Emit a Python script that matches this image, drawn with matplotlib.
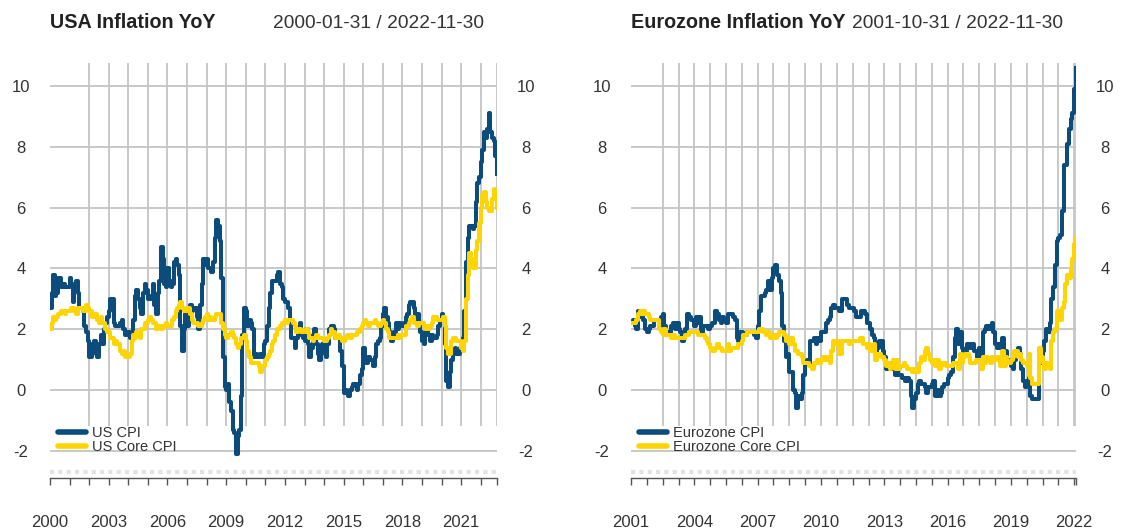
import matplotlib
matplotlib.use("Agg")
import matplotlib.pyplot as plt
from matplotlib.lines import Line2D
import pandas as pd

plt.rcParams['font.family'] = ['Liberation Sans', 'DejaVu Sans']

BLUE = '#0B4C7D'
GOLD = '#FFD400'
GRID = '#C4C4C4'
TXT = '#333333'

# USA, month-end values (YoY %)
us_dates = pd.date_range('2000-01-31', '2022-11-30', freq=pd.offsets.MonthEnd(1))
us_cpi = [
    2.7, 3.2, 3.8, 3.1, 3.2, 3.7, 3.7, 3.4, 3.5, 3.4, 3.4, 3.4,
    3.7, 3.5, 2.9, 3.3, 3.6, 3.2, 2.7, 2.7, 2.6, 2.1, 1.9, 1.6,
    1.1, 1.1, 1.5, 1.6, 1.2, 1.1, 1.5, 1.8, 1.5, 2.0, 2.2, 2.4,
    2.6, 3.0, 3.0, 2.2, 2.1, 2.1, 2.1, 2.2, 2.3, 2.0, 1.8, 1.9,
    1.9, 1.7, 1.7, 2.3, 3.1, 3.3, 3.0, 2.7, 2.5, 3.2, 3.5, 3.3,
    3.0, 3.0, 3.1, 3.5, 2.8, 2.5, 3.2, 3.6, 4.7, 4.3, 3.5, 3.4,
    4.0, 3.6, 3.4, 3.5, 4.2, 4.3, 4.1, 3.8, 2.1, 1.3, 2.0, 2.5,
    2.1, 2.4, 2.8, 2.6, 2.7, 2.7, 2.4, 2.0, 2.8, 3.5, 4.3, 4.1,
    4.3, 4.0, 4.0, 3.9, 4.2, 5.0, 5.6, 5.4, 4.9, 3.7, 1.1, 0.1,
    0.0, 0.2, -0.4, -0.7, -1.3, -1.4, -2.1, -1.5, -1.3, -0.2, 1.8, 2.7,
    2.6, 2.1, 2.3, 2.2, 2.0, 1.1, 1.2, 1.1, 1.1, 1.2, 1.1, 1.5,
    1.6, 2.1, 2.7, 3.2, 3.6, 3.6, 3.6, 3.8, 3.9, 3.5, 3.4, 3.0,
    2.9, 2.9, 2.7, 2.3, 1.7, 1.7, 1.4, 1.7, 2.0, 2.2, 1.8, 1.7,
    1.6, 2.0, 1.5, 1.1, 1.4, 1.8, 2.0, 1.5, 1.2, 1.0, 1.2, 1.5,
    1.6, 1.1, 1.5, 2.0, 2.1, 2.1, 2.0, 1.7, 1.7, 1.7, 1.3, 0.8,
    -0.1, 0.0, -0.1, -0.2, 0.0, 0.1, 0.2, 0.2, 0.0, 0.2, 0.5, 0.7,
    1.4, 1.0, 0.9, 1.1, 1.0, 1.0, 0.8, 1.1, 1.5, 1.6, 1.7, 2.1,
    2.5, 2.7, 2.4, 2.2, 1.9, 1.6, 1.7, 1.9, 2.2, 2.0, 2.2, 2.1,
    2.1, 2.2, 2.4, 2.5, 2.8, 2.9, 2.9, 2.7, 2.3, 2.5, 2.2, 1.9,
    1.6, 1.5, 1.9, 2.0, 1.8, 1.6, 1.8, 1.7, 1.7, 1.8, 2.1, 2.3,
    2.5, 2.3, 1.5, 0.3, 0.1, 0.6, 1.0, 1.3, 1.4, 1.2, 1.2, 1.4,
    1.4, 1.7, 2.6, 4.2, 5.0, 5.4, 5.4, 5.3, 5.4, 6.2, 6.8, 7.0,
    7.5, 7.9, 8.5, 8.3, 8.6, 9.1, 8.5, 8.3, 8.2, 7.7, 7.1,
]
us_core = [
    2.0, 2.2, 2.4, 2.3, 2.4, 2.5, 2.5, 2.6, 2.6, 2.5, 2.6, 2.6,
    2.6, 2.7, 2.7, 2.6, 2.5, 2.7, 2.7, 2.7, 2.6, 2.6, 2.8, 2.7,
    2.6, 2.6, 2.4, 2.5, 2.5, 2.3, 2.2, 2.4, 2.2, 2.2, 2.0, 1.9,
    1.9, 1.7, 1.7, 1.5, 1.6, 1.5, 1.5, 1.3, 1.2, 1.3, 1.1, 1.1,
    1.1, 1.2, 1.6, 1.8, 1.7, 1.9, 1.8, 1.7, 2.0, 2.0, 2.2, 2.2,
    2.3, 2.4, 2.3, 2.2, 2.2, 2.0, 2.1, 2.1, 2.0, 2.1, 2.1, 2.2,
    2.1, 2.1, 2.1, 2.3, 2.4, 2.6, 2.7, 2.8, 2.9, 2.7, 2.6, 2.6,
    2.7, 2.7, 2.5, 2.3, 2.2, 2.2, 2.2, 2.1, 2.1, 2.2, 2.3, 2.4,
    2.5, 2.3, 2.4, 2.3, 2.3, 2.4, 2.5, 2.5, 2.5, 2.2, 2.0, 1.8,
    1.7, 1.8, 1.8, 1.9, 1.8, 1.7, 1.5, 1.4, 1.5, 1.7, 1.7, 1.8,
    1.6, 1.3, 1.1, 0.9, 0.9, 0.9, 0.9, 0.9, 0.8, 0.6, 0.8, 0.8,
    1.0, 1.1, 1.2, 1.3, 1.5, 1.6, 1.8, 2.0, 2.0, 2.1, 2.2, 2.2,
    2.3, 2.2, 2.3, 2.3, 2.3, 2.2, 2.1, 1.9, 2.0, 2.0, 1.9, 1.9,
    1.9, 2.0, 1.9, 1.7, 1.7, 1.6, 1.7, 1.8, 1.7, 1.7, 1.7, 1.7,
    1.6, 1.6, 1.7, 1.8, 2.0, 1.9, 1.9, 1.7, 1.7, 1.8, 1.7, 1.6,
    1.6, 1.7, 1.8, 1.8, 1.7, 1.8, 1.8, 1.8, 1.9, 1.9, 2.0, 2.1,
    2.2, 2.3, 2.2, 2.1, 2.2, 2.2, 2.2, 2.3, 2.2, 2.1, 2.1, 2.2,
    2.3, 2.2, 2.0, 1.9, 1.7, 1.7, 1.7, 1.7, 1.7, 1.8, 1.7, 1.8,
    1.8, 1.8, 2.1, 2.1, 2.2, 2.3, 2.4, 2.2, 2.2, 2.1, 2.2, 2.2,
    2.2, 2.1, 2.0, 2.1, 2.0, 2.1, 2.2, 2.4, 2.4, 2.3, 2.3, 2.3,
    2.3, 2.4, 2.1, 1.4, 1.2, 1.2, 1.6, 1.7, 1.7, 1.6, 1.6, 1.6,
    1.4, 1.3, 1.6, 3.0, 3.8, 4.5, 4.3, 4.0, 4.0, 4.6, 4.9, 5.5,
    6.0, 6.4, 6.5, 6.2, 6.0, 5.9, 5.9, 6.3, 6.6, 6.3, 6.0,
]

# Eurozone, month-end values (YoY %)
ez_dates = pd.date_range('2001-10-31', '2022-11-30', freq=pd.offsets.MonthEnd(1))
ez_cpi = [
    2.2, 2.3, 2.1,
    2.0, 2.6, 2.4, 2.5, 2.3, 2.0, 1.9, 2.0, 2.1, 2.1, 2.3, 2.3,
    2.3, 2.1, 2.4, 2.5, 2.1, 1.8, 1.9, 1.9, 2.1, 2.2, 2.0, 2.2,
    2.0, 1.9, 1.6, 1.7, 2.0, 2.5, 2.4, 2.3, 2.3, 2.1, 2.4, 2.2,
    2.4, 1.9, 2.1, 2.1, 2.1, 2.0, 2.1, 2.2, 2.2, 2.6, 2.5, 2.3,
    2.2, 2.4, 2.3, 2.2, 2.5, 2.5, 2.5, 2.4, 2.3, 1.7, 1.6, 1.9,
    1.9, 1.8, 1.8, 1.9, 1.9, 1.9, 1.9, 1.8, 1.7, 2.1, 2.6, 3.1,
    3.1, 3.2, 3.3, 3.6, 3.3, 3.7, 4.0, 4.1, 3.8, 3.6, 3.2, 2.1,
    1.6, 1.1, 1.2, 0.6, 0.6, 0.0, -0.1, -0.6, -0.2, -0.3, -0.1, 0.5,
    0.9, 1.0, 0.9, 1.6, 1.6, 1.7, 1.5, 1.7, 1.6, 1.9, 1.9, 1.9,
    2.2, 2.3, 2.4, 2.7, 2.8, 2.7, 2.7, 2.6, 2.6, 3.0, 3.0, 3.0,
    2.8, 2.7, 2.7, 2.7, 2.6, 2.4, 2.4, 2.4, 2.6, 2.6, 2.5, 2.2,
    2.2, 2.0, 1.8, 1.7, 1.2, 1.4, 1.6, 1.6, 1.3, 1.1, 0.7, 0.9,
    0.8, 0.8, 0.7, 0.5, 0.7, 0.5, 0.5, 0.4, 0.4, 0.3, 0.4, 0.3,
    -0.2, -0.6, -0.3, -0.1, 0.2, 0.3, 0.2, 0.2, 0.1, -0.1, 0.1, 0.1,
    0.2, 0.3, -0.2, 0.0, -0.2, -0.1, 0.1, 0.2, 0.2, 0.4, 0.5, 0.6,
    1.1, 1.7, 2.0, 1.5, 1.9, 1.4, 1.3, 1.3, 1.5, 1.5, 1.4, 1.5,
    1.3, 1.3, 1.1, 1.4, 1.2, 1.9, 2.0, 2.1, 2.0, 2.1, 2.2, 1.9,
    1.5, 1.4, 1.5, 1.4, 1.7, 1.2, 1.3, 1.0, 1.0, 0.8, 0.7, 1.0,
    1.3, 1.4, 1.2, 0.7, 0.3, 0.1, 0.3, 0.4, -0.2, -0.3, -0.3, -0.3,
    -0.3, 0.9, 0.9, 1.3, 1.6, 2.0, 1.9, 2.2, 3.0, 3.4, 4.1, 4.9,
    5.0, 5.1, 5.9, 7.4, 7.4, 8.1, 8.6, 8.9, 9.1, 9.9, 10.6,
]
ez_core = [
    2.2, 2.2, 2.2,
    2.3, 2.5, 2.6, 2.5, 2.6, 2.5, 2.5, 2.4, 2.3, 2.3, 2.3, 2.3,
    2.3, 2.0, 1.9, 1.8, 2.0, 1.8, 1.8, 1.8, 1.7, 1.8, 1.7, 1.7,
    1.7, 1.7, 1.7, 1.7, 1.8, 1.8, 1.9, 1.9, 1.9, 1.9, 1.9, 1.8,
    1.8, 1.8, 1.8, 1.7, 1.6, 1.5, 1.4, 1.3, 1.3, 1.4, 1.5, 1.4,
    1.4, 1.3, 1.3, 1.3, 1.5, 1.3, 1.4, 1.4, 1.4, 1.4, 1.5, 1.5,
    1.6, 1.8, 1.8, 1.9, 1.9, 1.9, 1.9, 1.9, 1.9, 1.9, 2.0, 2.0,
    1.9, 1.9, 1.8, 1.9, 1.7, 1.8, 1.8, 1.7, 1.8, 1.9, 1.9, 1.9,
    1.8, 1.6, 1.7, 1.5, 1.7, 1.5, 1.3, 1.3, 1.2, 1.2, 1.1, 0.9,
    0.9, 0.9, 0.8, 0.8, 0.7, 0.9, 0.9, 1.0, 0.9, 1.0, 1.1, 1.0,
    1.1, 1.0, 0.9, 1.3, 1.6, 1.5, 1.6, 1.2, 1.2, 1.6, 1.6, 1.6,
    1.6, 1.5, 1.6, 1.6, 1.6, 1.6, 1.6, 1.7, 1.7, 1.5, 1.5, 1.4,
    1.5, 1.3, 1.3, 1.5, 1.0, 1.2, 1.2, 1.1, 1.1, 1.0, 0.8, 0.9,
    0.7, 0.8, 1.0, 0.7, 1.0, 0.7, 0.8, 0.8, 0.9, 0.8, 0.7, 0.7,
    0.7, 0.6, 0.7, 0.6, 0.6, 0.9, 1.1, 1.0, 1.3, 1.4, 1.2, 1.0,
    0.9, 1.0, 0.8, 1.0, 0.7, 0.8, 0.9, 0.9, 0.8, 0.8, 0.8, 0.8,
    0.9, 0.9, 0.9, 0.7, 1.2, 0.9, 1.1, 1.2, 1.2, 1.1, 0.9, 0.9,
    0.9, 1.0, 1.0, 1.0, 0.7, 1.1, 0.9, 1.1, 1.0, 0.9, 1.1, 1.0,
    1.0, 1.1, 1.0, 0.8, 1.3, 0.8, 1.1, 0.9, 0.9, 1.0, 1.1, 1.3,
    1.3, 1.1, 1.2, 1.0, 0.9, 0.9, 0.8, 1.2, 0.4, 0.2, 0.2, 0.2,
    0.2, 1.4, 1.1, 0.9, 0.7, 0.9, 0.9, 0.7, 1.6, 1.9, 2.0, 2.6,
    2.6, 2.3, 2.7, 2.9, 3.5, 3.8, 3.7, 4.0, 4.3, 4.8, 5.0,
]

y_ticks = [-2, 0, 2, 4, 6, 8, 10]

us_ticks = list(pd.date_range('2000-01-31', periods=23, freq=pd.offsets.MonthEnd(12)))
ez_ticks = list(pd.date_range('2001-10-31', periods=29, freq=pd.offsets.MonthEnd(9)))

W, H = 1125, 528


def panel(left_px, width_px, title, span, span_px, dates, cpi, core, names, ticks, every):
    ax = fig.add_axes([left_px / W, 1 - 478 / H, width_px / W, (478 - 62.9) / H])
    start, end = dates[0], dates[-1]
    ax.set_xlim(start, end)
    ax.set_ylim(-2.89, 10.76)

    for v in y_ticks:
        ax.axhline(v, color=GRID, lw=1.3, zorder=1)
    ax.vlines(ticks[2:] + [end], -1.18, 10.76, color=GRID, lw=1.3, zorder=1)
    ax.axhline(-2.69, color='#E2E2E2', lw=3, ls=(0, (1, 1)), zorder=1)

    ax.plot(dates, cpi, color=BLUE, lw=2.9, drawstyle='steps-post', zorder=3)
    ax.plot(dates, core, color=GOLD, lw=2.9, drawstyle='steps-post', zorder=4)

    for s in ['left', 'right', 'top']:
        ax.spines[s].set_visible(False)
    ax.spines['bottom'].set_color('#555555')
    ax.spines['bottom'].set_linewidth(1.0)

    xt = ticks + [end]
    xl = [str(t.year) if i % every == 0 else '' for i, t in enumerate(ticks)] + ['']
    ax.set_xticks(xt, xl)
    ax.tick_params(axis='x', direction='out', length=5, width=1, color='#555555',
                   pad=21.5, labelsize=12, labelcolor=TXT)

    ax.set_yticks(y_ticks, [str(v) for v in y_ticks])
    ax.tick_params(axis='y', length=0, labelleft=True, labelright=True,
                   labelsize=12, labelcolor=TXT, pad=21)
    for t in ax.yaxis.get_major_ticks():
        t.label1.set_horizontalalignment('center')
        t.label2.set_horizontalalignment('center')

    handles = [Line2D([], [], color=BLUE, lw=4, solid_capstyle='round'),
               Line2D([], [], color=GOLD, lw=4, solid_capstyle='round')]
    ax.legend(handles, names, loc='upper left', bbox_to_anchor=(0.018, 0.125),
              frameon=False, fontsize=10.5, handlelength=1.9, handletextpad=0.4,
              labelspacing=0.0, borderpad=0, borderaxespad=0, labelcolor=TXT)

    fig.text(left_px / W, 1 - 28 / H, title, fontsize=14.2, fontweight='bold',
             color='#222222', va='baseline', ha='left')
    fig.text(span_px / W, 1 - 28 / H, span, fontsize=13.8, color=TXT,
             va='baseline', ha='left')
    return ax


fig = plt.figure(figsize=(W / 100, H / 100), dpi=100)

panel(50, 447, 'USA Inflation YoY', '2000-01-31 / 2022-11-30', 273,
      us_dates, us_cpi, us_core, ['US CPI', 'US Core CPI'], us_ticks, 3)
panel(631, 445, 'Eurozone Inflation YoY', '2001-10-31 / 2022-11-30', 852,
      ez_dates, ez_cpi, ez_core, ['Eurozone CPI', 'Eurozone Core CPI'], ez_ticks, 4)

fig.savefig('out.png', dpi=100)
